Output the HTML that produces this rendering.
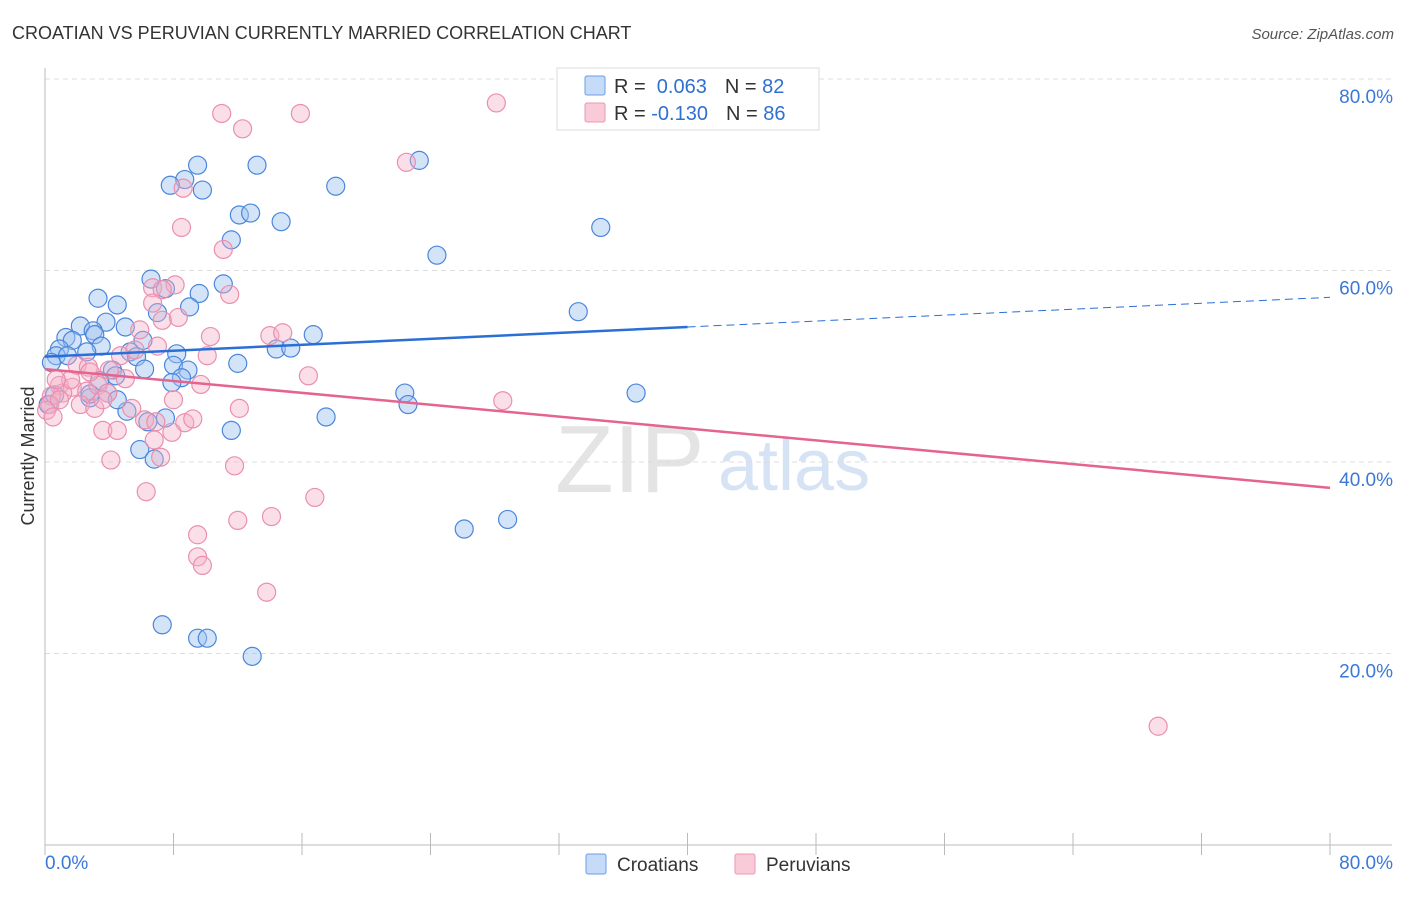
<!DOCTYPE html>
<html><head><meta charset="utf-8"><style>
body{margin:0;background:#fff;font-family:"Liberation Sans",sans-serif}
svg text{font-family:"Liberation Sans",sans-serif}
</style></head><body>
<svg id="chart" width="1406" height="892">
<text x="12" y="39" font-size="18" fill="#333">CROATIAN VS PERUVIAN CURRENTLY MARRIED CORRELATION CHART</text>
<text x="1394" y="39" font-size="15" fill="#555" font-style="italic" text-anchor="end">Source: ZipAtlas.com</text>
<g>
<text x="555" y="492" font-size="96" fill="#e4e4e4" font-family="Liberation Serif,serif">ZIP</text>
<text x="718" y="490" font-size="72" fill="#d6e3f5">atlas</text>
</g>
<g id="grid"></g>
<g id="axes"></g>
<g id="pts"></g>
<g id="trends"></g>
<g>
<rect x="557" y="68" width="262" height="62" fill="#fff" stroke="#ddd"/>
<rect x="585" y="76" width="20" height="19" fill="#c6dbf7" stroke="#6a9ee8" rx="2"/>
<rect x="585" y="103" width="20" height="19" fill="#f9cad8" stroke="#ee95b2" rx="2"/>
<text x="614" y="93" font-size="20" fill="#333">R = <tspan fill="#3070d0">&#160;0.063</tspan><tspan dx="18">N = </tspan><tspan fill="#3070d0">82</tspan></text>
<text x="614" y="120" font-size="20" fill="#333">R = <tspan fill="#3070d0">-0.130</tspan><tspan dx="18">N = </tspan><tspan fill="#3070d0">86</tspan></text>
</g>
<text transform="translate(34,456) rotate(-90)" font-size="18" fill="#333" text-anchor="middle">Currently Married</text>
<g>
<rect x="586" y="854" width="20" height="20" fill="#c6dbf7" stroke="#6a9ee8" rx="2"/>
<text x="617" y="871" font-size="19" fill="#333">Croatians</text>
<rect x="735" y="854" width="20" height="20" fill="#f9cad8" stroke="#ee95b2" rx="2"/>
<text x="766" y="871" font-size="19" fill="#333">Peruvians</text>
</g>
</svg>
<script>
const blueX=[9.5,8.7,7.8,9.8,13.2,23.3,18.1,12.1,12.8,14.7,11.6,24.4,34.6,6.6,11.1,9.6,7.5,3.3,4.5,7.0,9.0,33.2,2.2,3.8,3.0,5.0,6.1,1.3,1.7,3.1,16.7,14.4,15.3,0.9,3.5,5.3,8.2,5.7,0.7,1.4,0.4,12.0,2.6,8.0,8.9,6.2,4.2,8.5,7.9,4.4,3.4,3.9,22.4,36.8,22.6,5.1,2.8,4.5,7.5,17.5,11.6,6.4,5.9,6.8,26.1,28.8,7.3,9.5,10.1,12.9,0.2,0.6,2.8];
const blueY=[71.0,69.5,68.9,68.4,71.0,71.5,68.8,65.8,66.0,65.1,63.2,61.6,64.5,59.1,58.6,57.6,58.1,57.1,56.4,55.6,56.2,55.7,54.2,54.6,53.7,54.1,52.7,53.0,52.7,53.3,53.3,51.8,51.9,51.8,52.1,51.5,51.3,51.0,51.1,51.1,50.4,50.3,51.5,50.1,49.6,49.7,49.6,48.8,48.3,49.0,48.5,47.2,47.2,47.2,46.0,45.3,46.7,46.5,44.6,44.7,43.3,44.2,41.3,40.3,33.0,34.0,23.0,21.6,21.6,19.7,46.0,47.0,47.1];
const pinkX=[11.0,15.9,28.1,12.3,22.5,8.6,8.5,11.1,8.1,6.7,7.3,11.5,6.7,8.3,7.3,5.9,10.3,14.0,14.8,7.0,10.1,4.7,5.6,2.0,2.7,4.0,5.0,16.4,9.7,0.9,1.7,2.6,3.3,3.9,1.1,0.4,0.3,0.1,0.9,2.2,3.1,3.6,5.4,8.0,12.1,28.5,6.2,6.9,8.7,9.2,3.6,4.5,6.8,7.9,7.2,4.1,11.8,6.3,16.8,12.0,14.1,9.5,9.5,9.8,13.8,69.3,0.5,1.6,0.7,2.8];
const pinkY=[76.4,76.4,77.5,74.8,71.3,68.6,64.5,62.2,58.5,58.2,58.0,57.5,56.6,55.1,54.8,53.8,53.1,53.2,53.5,52.1,51.1,51.1,51.7,50.1,49.9,49.6,48.7,49.0,48.1,48.0,47.8,47.4,48.0,47.2,47.2,46.9,46.0,45.4,46.5,46.0,45.6,46.5,45.6,46.5,45.6,46.4,44.4,44.2,44.1,44.5,43.3,43.3,42.3,43.1,40.5,40.2,39.6,36.9,36.3,33.9,34.3,32.4,30.1,29.2,26.4,12.4,44.7,48.6,48.6,49.4];
const blueTrend=[51.0,57.2];
const pinkTrend=[49.7,37.3];
const yTicks=[20,40,60,80];
const xTicks=[0,8,16,24,32,40,48,56,64,72,80];
const NS='http://www.w3.org/2000/svg';
const sx=v=>45+v*1285/80, sy=v=>845-v*766/80;
function mk(t,a,p){const e=document.createElementNS(NS,t);for(const k in a)e.setAttribute(k,a[k]);p.appendChild(e);return e;}
const grid=document.getElementById('grid'),axes=document.getElementById('axes'),pts=document.getElementById('pts'),tr=document.getElementById('trends');
yTicks.forEach(v=>{
 const l=mk('line',{x1:45,x2:1392,y1:sy(v),y2:sy(v),stroke:'#ddd','stroke-dasharray':'5,4'},grid);
 
 
 const t=mk('text',{x:1393,y:sy(v)+24,'font-size':19,fill:'#3b78d8','text-anchor':'end'},grid);t.textContent=v.toFixed(1)+'%';
 
 
});
mk('line',{x1:45,x2:45,y1:68,y2:845,stroke:'#bbb'},axes);
mk('line',{x1:45,x2:1392,y1:845,y2:845,stroke:'#bbb'},axes);
xTicks.forEach(v=>{const l=mk('line',{x1:sx(v),x2:sx(v),y1:833,y2:855,stroke:'#bbb'},axes);
 
 });
let t0=mk('text',{x:45,y:869,'font-size':19,fill:'#3b78d8'},axes);t0.textContent='0.0%';


let t1=mk('text',{x:1393,y:869,'font-size':19,fill:'#3b78d8','text-anchor':'end'},axes);t1.textContent='80.0%';


blueX.forEach((x,i)=>{const c=mk('circle',{cx:sx(x),cy:sy(blueY[i]),r:9,fill:'rgba(160,195,240,0.45)',stroke:'#4a86dc','stroke-width':1.2},pts);
 
 });
pinkX.forEach((x,i)=>{const c=mk('circle',{cx:sx(x),cy:sy(pinkY[i]),r:9,fill:'rgba(245,175,198,0.4)',stroke:'#ea8fae','stroke-width':1.2},pts);
 
 });
const bm=blueTrend[0]+(blueTrend[1]-blueTrend[0])*0.5;
let b1=mk('line',{x1:sx(0),y1:sy(blueTrend[0]),x2:sx(40),y2:sy(bm),stroke:'#2a6fd6','stroke-width':2.5},tr);


let b2=mk('line',{x1:sx(40),y1:sy(bm),x2:sx(80),y2:sy(blueTrend[1]),stroke:'#2a6fd6','stroke-width':1,'stroke-dasharray':'8,5'},tr);


let p1=mk('line',{x1:sx(0),y1:sy(pinkTrend[0]),x2:sx(80),y2:sy(pinkTrend[1]),stroke:'#e4648e','stroke-width':2.5},tr);


</script>
</body></html>
